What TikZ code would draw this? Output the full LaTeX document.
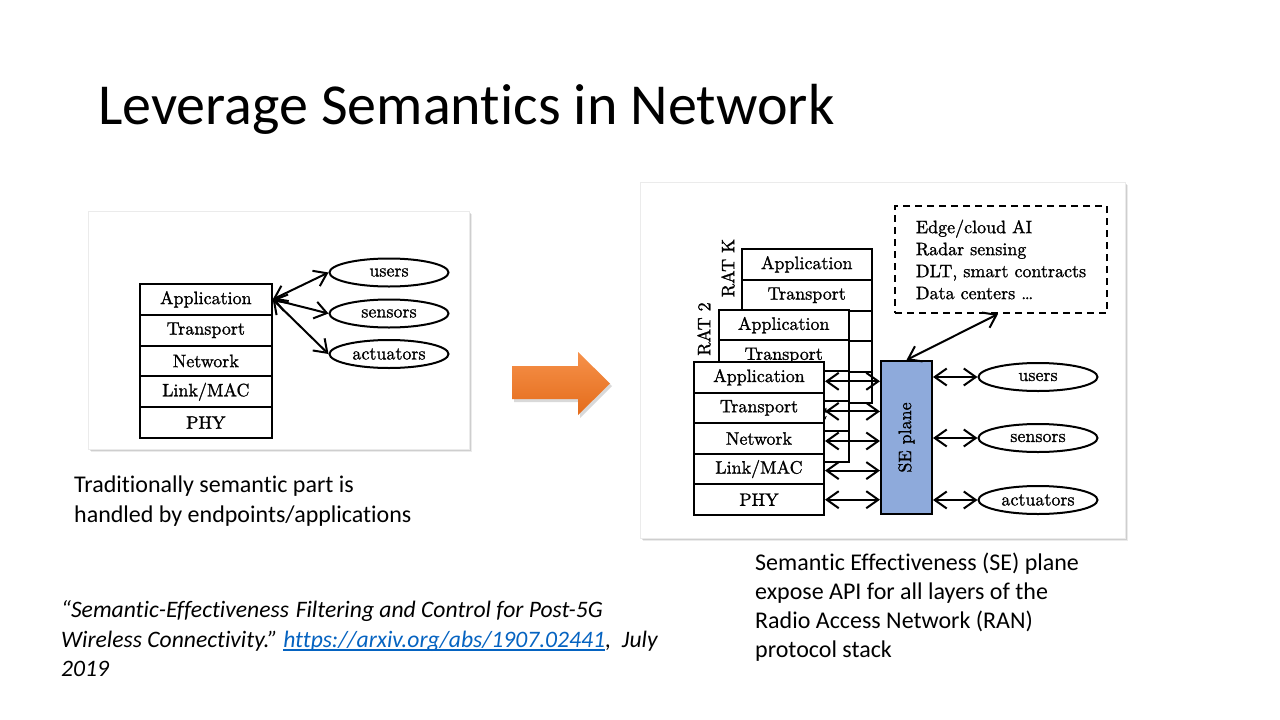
\documentclass[tikz,border=0pt]{standalone}
\usepackage{fontspec}
\newfontfamily\slidefont{Carlito}[Ligatures=NoCommon]
\newfontfamily\diagfont{lmroman10-regular.otf}[FakeBold=1.2]
\usetikzlibrary{arrows.meta,calc,shapes.geometric}

\definecolor{seblue}{HTML}{8EAADB}
\definecolor{arrowtop}{HTML}{F6914A}
\definecolor{arrowbot}{HTML}{E46C1B}
\definecolor{linkblue}{HTML}{0563C1}

\tikzset{
  diagtext/.style={font=\diagfont\fontsize{18}{21}\selectfont},
  layer/.style={diagtext, draw, line width=2pt, fill=white, minimum height=30.7pt,
    inner sep=0pt, anchor=north west},
  endpoint/.style={diagtext, ellipse, draw, line width=2pt, fill=white,
    minimum width=119pt, minimum height=28pt, inner sep=0pt},
  biarrow/.style={line width=2pt,
    {Straight Barb[length=12pt,width=17pt]}-{Straight Barb[length=12pt,width=17pt]}},
  slidetext/.style={anchor=base west, inner sep=0pt,
    font=\slidefont\fontsize{24}{29.5}\selectfont},
  citetext/.style={slidetext, font=\slidefont\itshape\fontsize{23.6}{29.5}\selectfont},
  ratlabel/.style={diagtext, rotate=90, inner sep=0pt},
}

% protocol stack: name prefix, left x, top y, width, row height
\newcommand\protostack[5]{%
  \foreach \lbl [count=\i] in {Application,Transport,Network,Link/MAC,PHY}
    \node[layer, minimum width=#4, minimum height=#5] (#1\i) at (#2, {#3+(\i-1)*#5}) {\lbl};
}

% white figure panel with a soft shadow
\newcommand\figpanel[4]{%
  \foreach \o/\op in {3/0.08,2/0.12,1/0.16}
    \fill[black, opacity=\op] (#1+\o, #2+\o) rectangle (#3+\o, #4+\o);
  \fill[white, draw=black!8] (#1,#2) rectangle (#3,#4);
}

\begin{document}
\begin{tikzpicture}[x=1pt, y=-1pt]
\useasboundingbox (0,0) rectangle (1280,720);
\fill[white] (0,0) rectangle (1280,720);

% title
\node[anchor=base west, inner sep=0pt, font=\slidefont\fontsize{58}{70}\selectfont]
  (title) at (98,124) {Leverage Semantics in Network};

% ---------- left figure: classic stack ----------
\figpanel{88}{211}{469}{449}
\protostack{L}{139}{283}{131.7pt}{30.8}
\node[endpoint] (lu) at (389,272.5) {users};
\node[endpoint] (ls) at (389,313.5) {sensors};
\node[endpoint] (la) at (389,354) {actuators};
\draw[biarrow] (L1.east) -- (lu.west);
\draw[biarrow] (L1.east) -- (ls.west);
\draw[biarrow] (L1.east) -- (la.west);

\node[slidetext] (capL1) at (74,492) {Traditionally semantic part is};
\node[slidetext] (capL2) at (74,522) {handled by endpoints/applications};

% ---------- transition arrow ----------
\fill[black, opacity=0.15] (514,369) -- (580,369) -- (580,355) -- (612,386) -- (580,418) -- (580,402) -- (514,402) -- cycle;
\shade[top color=arrowtop, bottom color=arrowbot]
  (512,366) -- (578,366) -- (578,352) -- (610,383.5) -- (578,415) -- (578,399) -- (512,399) -- cycle;

% ---------- right figure: SE plane ----------
\figpanel{640}{182}{1125}{538}
\protostack{K}{741}{248}{129.5pt}{30.8}
\node[ratlabel] (ratK) at (728,268) {RAT K};
\protostack{T}{718}{309}{129.5pt}{30.3}
\node[ratlabel] (ratT) at (704,329) {RAT 2};
\protostack{F}{693}{361}{130pt}{30.6}

\node[draw, line width=2pt, fill=seblue, minimum width=51pt, minimum height=153pt,
  inner sep=0pt] (se) at (906.5,437.5) {};
\node[ratlabel] (selabel) at (se.center) {SE plane};

\foreach \i/\dy in {1/4,2/3.5,3/2.5,4/1.5,5/0}
  \draw[biarrow] ([yshift=-\dy pt]F\i.east) -- ([yshift=-\dy pt]F\i.east -| se.west);

\node[endpoint] (ru) at (1038,377) {users};
\node[endpoint] (rs) at (1038,438) {sensors};
\node[endpoint] (ra) at (1038,500) {actuators};
\draw[biarrow] (se.east |- ru) -- (ru.west);
\draw[biarrow] (se.east |- rs) -- (rs.west);
\draw[biarrow] (se.east |- ra) -- (ra.west);

\node[draw, line width=2pt, dash pattern=on 7pt off 5pt, minimum width=212pt,
  minimum height=107pt, align=left, font=\diagfont\fontsize{18}{22}\selectfont]
  (edge) at (1001,259.5)
  {Edge/cloud AI\\Radar sensing\\DLT, smart contracts\\Data centers \dots};
\draw[biarrow] ([xshift=-3pt]edge.south) -- (se.north);

\node[slidetext] (capR1) at (755,570) {Semantic Effectiveness (SE) plane};
\node[slidetext] (capR2) at (755,599) {expose API for all layers of the};
\node[slidetext] (capR3) at (755,628) {Radio Access Network (RAN)};
\node[slidetext] (capR4) at (755,657) {protocol stack};

% ---------- reference ----------
\node[citetext] (cite1) at (61,617) {“Semantic-Effectiveness\hspace{1.5pt} Filtering and Control for Post-5G};
\node[citetext] (cite2) at (61,647) {Wireless Connectivity.”};
\node[citetext, text=linkblue] (link) at ([xshift=5pt]cite2.base east) {https://arxiv.org/abs/1907.02441};
\draw[linkblue, line width=1.2pt] ([yshift=-3pt]link.base west) -- ([yshift=-3pt]link.base east);
\node[citetext] (cite3) at (link.base east) {,\ \ July};
\node[citetext] (cite4) at (61,676) {2019};
\end{tikzpicture}
\end{document}
